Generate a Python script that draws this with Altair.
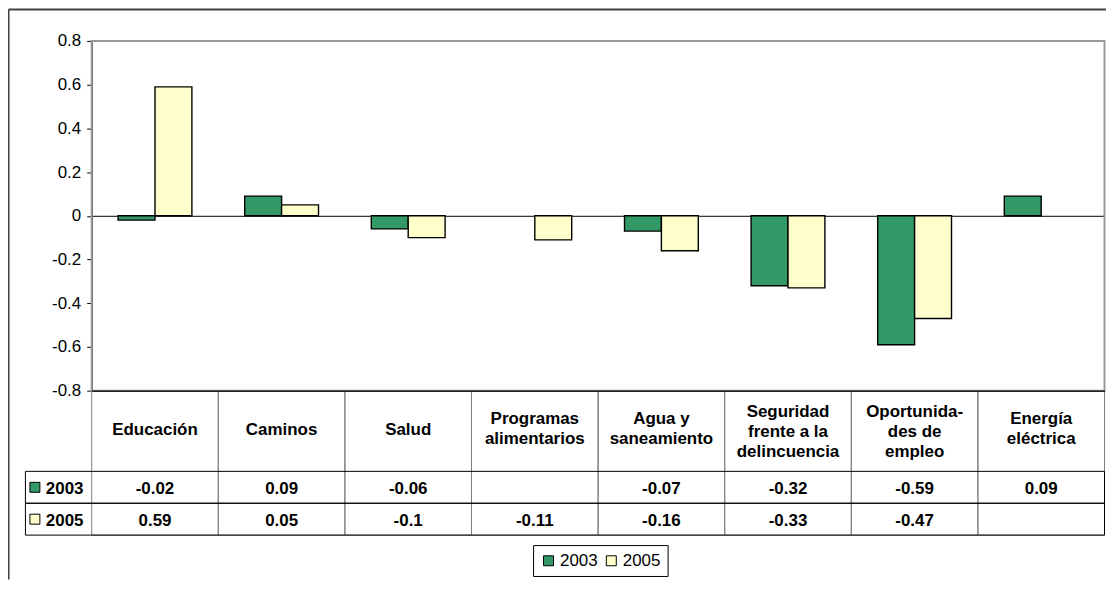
import altair as alt
import pandas as pd

# ---------------- data ----------------
categories = [
    "Educación",
    "Caminos",
    "Salud",
    "Programas\nalimentarios",
    "Agua y\nsaneamiento",
    "Seguridad\nfrente a la\ndelincuencia",
    "Oportunida-\ndes de\nempleo",
    "Energía\neléctrica",
]
years = ["2003", "2005"]
values_2003 = [-0.02, 0.09, -0.06, None, -0.07, -0.32, -0.59, 0.09]
values_2005 = [0.59, 0.05, -0.1, -0.11, -0.16, -0.33, -0.47, None]
y_ticks = [0.8, 0.6, 0.4, 0.2, 0, -0.2, -0.4, -0.6, -0.8]
colors = ["#339966", "#FFFFCC"]

# ---------------- layout (pixels inside the chart frame) ----------------
W, H = 1102, 572
PX0, PX1 = 84, 1100.5          # plot area left / right
PY0, PY1 = 32, 383             # plot area top / bottom (-0.8 line)
HEAD1 = 464                    # bottom of header row
ROW_END = 528                  # bottom of table
LAB_X0 = 17.5                  # left edge of legend-key column
Y_MIN, Y_MAX = -0.8, 0.8
ZERO_Y = PY0 + (Y_MAX - 0) / (Y_MAX - Y_MIN) * (PY1 - PY0)
FONT = "Liberation Sans"
FS = 17

records = []
for c, v3, v5 in zip(categories, values_2003, values_2005):
    records.append({"cat": c, "year": "2003", "value": v3})
    records.append({"cat": c, "year": "2005", "value": v5})
long_df = pd.DataFrame(records)
cat_df = pd.DataFrame({"cat": categories})
year_df = pd.DataFrame({"year": years})


def band(domain, rng, pi=0.0, po=0.0):
    return alt.Scale(domain=domain, range=rng, paddingInner=pi, paddingOuter=po)


x_cells = band(categories, [PX0, PX1])
fill_scale = alt.Scale(domain=years, range=colors)
legend = alt.Legend(
    orient="none", legendX=527, legendY=538, direction="horizontal", title=None,
    strokeColor="black", fillColor="white", padding=7, symbolType="square",
    symbolSize=100, symbolStrokeColor="black", symbolStrokeWidth=1, symbolOpacity=1,
    labelFont=FONT, labelFontSize=FS, labelColor="black", labelOffset=3, columnPadding=5,
)

# outer frame: left and top edges drawn as axis domains
frame = alt.Chart(pd.DataFrame({"f": ["frame"]})).mark_rect(opacity=0).encode(
    x=alt.X("f:N", scale=band(["frame"], [0, W]),
            axis=alt.Axis(orient="top", offset=0, domainColor="#404040", domainWidth=2,
                          labels=False, ticks=False, grid=False, title=None)),
    y=alt.Y("f:N", scale=band(["frame"], [0, H]),
            axis=alt.Axis(orient="left", offset=0, domainColor="#404040", domainWidth=2,
                          labels=False, ticks=False, grid=False, title=None)),
)

# plot-area border (+ the -0.8 line as an axis)
plot_box = alt.Chart(pd.DataFrame({"area": ["plot"]})).mark_rect(
    fill="transparent", stroke="#999999", strokeWidth=2
).encode(
    x=alt.X("area:N", scale=band(["plot"], [PX0, PX1]),
            axis=alt.Axis(orient="bottom", offset=PY1 - H, domainColor="#222222", domainWidth=1.5,
                          labels=False, ticks=False, grid=False, title=None)),
    y=alt.Y("area:N", scale=band(["plot"], [PY0, PY1]), axis=None),
)

# vertical table lines
col_cells = alt.Chart(cat_df).transform_calculate(span="'all'").mark_rect(
    fill="transparent", stroke="#808080", strokeWidth=1
).encode(
    x=alt.X("cat:N", scale=x_cells, axis=None),
    y=alt.Y("span:N", scale=band(["all"], [PY1, ROW_END]), axis=None),
)

# horizontal table lines (data rows incl. key column)
row_cells = alt.Chart(year_df).transform_calculate(span="'table'").mark_rect(
    fill="transparent", stroke="black", strokeWidth=1
).encode(
    x=alt.X("span:N", scale=band(["table"], [LAB_X0, PX1]), axis=None),
    y=alt.Y("year:N", scale=band(years, [HEAD1, ROW_END]), axis=None),
)

# bars
bars = alt.Chart(long_df).mark_bar(stroke="black", strokeWidth=1.4).encode(
    x=alt.X("cat:N", scale=band(categories, [PX0, PX1], 0.417, 0.2085),
            axis=alt.Axis(orient="bottom", offset=ZERO_Y - H, domainColor="black", domainWidth=1,
                          labels=False, ticks=False, grid=False, title=None)),
    xOffset=alt.XOffset("year:N", scale=alt.Scale(domain=years)),
    y=alt.Y("value:Q", scale=alt.Scale(domain=[Y_MIN, Y_MAX], range=[PY1, PY0], nice=False, zero=False),
            axis=alt.Axis(orient="left", offset=-PX0, values=y_ticks, labelExpr="'' + datum.value",
                          domainColor="black", domainWidth=1.2, tickColor="black", tickSize=5,
                          labelFont=FONT, labelFontSize=FS, labelColor="black", labelPadding=6,
                          grid=False, title=None)),
    fill=alt.Fill("year:N", scale=fill_scale, legend=legend),
)


# header row text: one layer per number of lines so each block is centred
def header_layer(n_lines, dy):
    return alt.Chart(cat_df).transform_calculate(
        row="'head'", n="length(split(datum.cat, '\\n'))"
    ).transform_filter(f"datum.n == {n_lines}").mark_text(
        font=FONT, fontSize=FS, fontWeight="bold", lineBreak="\n", lineHeight=20,
        align="center", baseline="middle", color="black", dy=dy
    ).encode(
        x=alt.X("cat:N", scale=x_cells, axis=None),
        y=alt.Y("row:N", scale=band(["head"], [PY1, HEAD1]), axis=None),
        text="cat:N",
    )


header1 = header_layer(1, -1)
header2 = header_layer(2, -12)
header3 = header_layer(3, -19)

# table values
value_text = alt.Chart(long_df).transform_filter("isValid(datum.value)").transform_calculate(
    label="'' + datum.value"
).mark_text(
    font=FONT, fontSize=FS, fontWeight="bold", align="center", baseline="middle", dy=1.5, color="black"
).encode(
    x=alt.X("cat:N", scale=x_cells, axis=None),
    y=alt.Y("year:N", scale=band(years, [HEAD1, ROW_END]), axis=None),
    text="label:N",
)

# legend keys in the table
key_x = alt.Scale(domain=["sym", "lbl"], range=[27, 38], type="point", padding=0)
key_squares = alt.Chart(year_df).transform_calculate(part="'sym'").mark_square(
    size=100, stroke="black", strokeWidth=1, opacity=1
).encode(
    x=alt.X("part:N", scale=key_x, axis=None),
    y=alt.Y("year:N", scale=band(years, [HEAD1, ROW_END]), axis=None),
    fill=alt.Fill("year:N", scale=fill_scale, legend=legend),
)
key_text = alt.Chart(year_df).transform_calculate(part="'lbl'").mark_text(
    font=FONT, fontSize=FS, fontWeight="bold", align="left", baseline="middle", dy=1.5, color="black"
).encode(
    x=alt.X("part:N", scale=key_x, axis=None),
    y=alt.Y("year:N", scale=band(years, [HEAD1, ROW_END]), axis=None),
    text="year:N",
)

chart = alt.layer(
    frame, plot_box, col_cells, row_cells, bars, header1, header2, header3,
    value_text, key_squares, key_text
).resolve_scale(
    x="independent", y="independent"
).resolve_axis(
    x="independent", y="independent"
).properties(
    width=W, height=H, padding=0, autosize=alt.AutoSizeParams(type="none"), background="white"
).configure_view(
    stroke="transparent"
)

chart.save("out.html", embed_options={"renderer": "svg", "actions": False})
